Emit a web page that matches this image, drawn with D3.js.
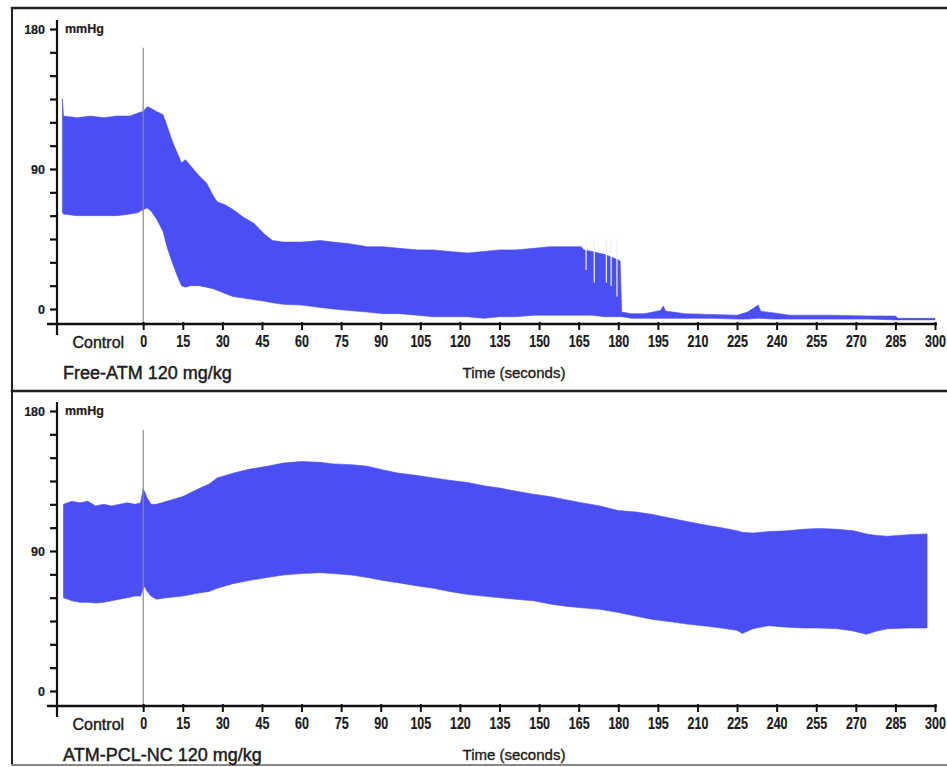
<!DOCTYPE html>
<html>
<head>
<meta charset="utf-8">
<script src="https://cdn.jsdelivr.net/npm/d3@7"></script>
<style>
  html, body { margin: 0; padding: 0; background: #fff; }
  svg { display: block; font-family: "Liberation Sans", Arial, sans-serif; }
</style>
</head>
<body>
<svg id="chart" width="947" height="767"></svg>
<script>
// ---- Free-ATM 120 mg/kg : arterial pressure envelope (mmHg) ----
const freeTime  = [-30.6, -30.2, -25, -20, -15, -10, -5, -2, 0, 1.5, 3, 5, 7.5, 9, 11, 13, 14.5, 16, 18, 21, 24, 26.5, 28, 31, 34, 38, 42, 46, 49, 53, 60, 67, 72, 78, 85, 91, 97, 104, 110, 116, 123, 129, 135, 141, 148, 154, 160, 166, 167, 170, 175, 178, 180.7, 181.3, 185, 190, 193, 196, 197, 198, 201, 205, 215, 225, 229, 233, 234, 239, 245, 260, 275, 285, 286, 300];
const freeUpper = [135, 124, 123, 124, 123, 124, 124, 126, 127, 130, 129, 127, 125, 118, 108, 100, 94, 96, 92, 86, 81, 73, 69, 67, 64, 59, 55, 48, 44, 43, 43, 44, 43, 42, 40, 40, 39, 38, 38, 37, 36, 37, 38, 38, 39, 40, 40, 40, 38, 37, 35, 33, 31, -2, -3, -3, -2, -1, 2, -1.5, -2, -3, -3.5, -4, -2, 2.5, -1.5, -2.5, -4, -4, -4.5, -4.5, -6, -6];
const freeLower = [62, 61, 60, 60, 60, 60, 61, 62, 64, 65, 63, 58, 50, 40, 30, 21, 15, 14, 15, 15, 14, 13, 12, 10, 8, 7, 6, 5, 4, 3, 2.5, 1, 0, -1, -2, -3, -3, -4, -5, -5, -5, -6, -5, -5, -4, -4, -4, -4, -4, -4, -5, -5, -5, -5, -6, -6, -6, -6, -6, -6, -6, -6, -6, -6.5, -6.5, -6, -6, -6.5, -6.5, -6.5, -6.5, -7, -7, -7];
// weak beats (low systolic peaks) shortly before the arrest
const freeWeakTime = [167.8, 170.9, 175.5, 177.3, 179.5];
const freeWeakPeak = [25, 17, 17, 15, 8];

// ---- ATM-PCL-NC 120 mg/kg : arterial pressure envelope (mmHg) ----
const ncTime  = [-30.2, -27, -24, -21, -18, -15, -12, -9, -6, -3, -1, 0, 0.6, 1.5, 3, 5, 9, 15, 21, 25, 28, 34, 40, 47, 53, 60, 67, 72, 79, 85, 91, 97, 104, 110, 116, 123, 129, 135, 141, 148, 154, 160, 166, 173, 180, 187, 193, 200, 206, 212, 219, 225, 227, 231, 237, 244, 250, 256, 263, 269, 274, 278, 282, 290, 297];
const ncUpper = [120, 122, 121, 122, 119, 120, 119, 120, 121, 120, 121, 130, 128, 124, 120, 120, 122, 125, 130, 133, 137, 140, 142.5, 144.5, 146.5, 147.5, 147, 146, 145.5, 144.5, 142, 140, 138.5, 137, 135.5, 134, 132, 130.5, 128.5, 126.5, 125, 123, 121, 119, 116, 115, 113.5, 111, 109, 107, 105, 103, 102, 101.5, 102.5, 103, 104, 104.5, 104, 103, 101, 100, 99.5, 100.5, 101];
const ncLower = [60, 58, 57, 57, 56.5, 57, 58, 59, 60, 61, 61, 66, 67, 64, 61, 59, 60, 61, 63, 64, 66, 69, 71, 73, 74.5, 75.5, 76, 75.5, 74.5, 73, 71, 69.5, 67.5, 66, 64, 62, 61, 60, 59, 58, 56, 54.5, 53.5, 52.5, 50.5, 48, 46, 44.5, 43, 42, 40.5, 39, 37, 40, 42, 41, 40.5, 40.5, 40, 38.5, 36.5, 38.5, 40, 40.5, 40.5];

// ---- axes ----
const timeTicks  = [0, 15, 30, 45, 60, 75, 90, 105, 120, 135, 150, 165, 180, 195, 210, 225, 240, 255, 270, 285, 300];
const mmHgTicks  = [0, 15, 30, 45, 60, 75, 90, 105, 120, 135, 150, 165, 180];
const mmHgLabels = [0, 90, 180];
const controlLabel = "Control";
const controlCentre = -17;      // middle of the pre-dose segment, seconds
const doseTime = 0;             // injection marker
const doseMarkTop = 168;        // marker height, mmHg
const unitLabel = "mmHg";
const timeTitle = "Time (seconds)";
const panelTitles = ["Free-ATM 120 mg/kg", "ATM-PCL-NC 120 mg/kg"];

const traceColor = "#4b4ef2";
const inkColor = "#1a1a1a";
const svg = d3.select("#chart");

const x = d3.scaleLinear().domain([-30, 300]).range([64, 935]);

// frame lines
const frame = svg.append("g").attr("stroke-linecap", "square");
frame.append("line").attr("x1", 12).attr("x2", 12).attr("y1", 8).attr("y2", 764)
  .attr("stroke", "#222").attr("stroke-width", 2);
frame.append("line").attr("x1", 12).attr("x2", 947).attr("y1", 8).attr("y2", 8)
  .attr("stroke", "#222").attr("stroke-width", 2.5);
frame.append("line").attr("x1", 12).attr("x2", 947).attr("y1", 391).attr("y2", 391)
  .attr("stroke", "#222").attr("stroke-width", 2.5);
frame.append("line").attr("x1", 12).attr("x2", 947).attr("y1", 765).attr("y2", 765)
  .attr("stroke", "#888").attr("stroke-width", 2);

// slightly heavier strokes on the lettering, as on the printed trace
function ink(sel, w) {
  return sel.attr("fill", inkColor).attr("stroke", inkColor).attr("stroke-width", w);
}

function drawPanel(offset, times, upper, lower, title, weakTimes, weakPeaks) {
  const g = svg.append("g").attr("transform", `translate(0,${offset})`);
  const y = d3.scaleLinear().domain([0, 180]).range([309, 29]);
  const axisY = 324;

  const rows = times.map((t, i) => ({ t, hi: upper[i], lo: lower[i] }));
  const area = d3.area()
    .x(d => x(d.t))
    .y0(d => y(d.lo))
    .y1(d => y(d.hi));
  g.append("path").datum(rows)
    .attr("d", area)
    .attr("fill", traceColor)
    .attr("stroke", traceColor)
    .attr("stroke-width", 0.6)
    .attr("stroke-linejoin", "round");

  // weak beats show as gaps in the band
  if (weakTimes) {
    g.selectAll("line.weak").data(weakTimes.map((t, i) => ({ t, p: weakPeaks[i] })))
      .join("line").attr("class", "weak")
      .attr("x1", d => x(d.t)).attr("x2", d => x(d.t))
      .attr("y1", y(45)).attr("y2", d => y(d.p))
      .attr("stroke", "#eef0ff").attr("stroke-width", 1.2);
  }

  // dose marker
  g.append("line")
    .attr("x1", x(doseTime)).attr("x2", x(doseTime))
    .attr("y1", y(doseMarkTop)).attr("y2", axisY)
    .attr("stroke", "#8a8a8a").attr("stroke-width", 1.2);

  // y axis
  const yAxis = g.append("g").attr("transform", "translate(57,0)")
    .call(d3.axisLeft(y).tickValues(mmHgTicks)
      .tickFormat(d => mmHgLabels.includes(d) ? d : "")
      .tickSize(7).tickPadding(5));
  yAxis.select(".domain").remove();
  yAxis.selectAll(".tick line").attr("stroke", "#111").attr("stroke-width", 2.2);
  ink(yAxis.selectAll(".tick text").attr("font-size", 12.5).attr("font-weight", "bold"), 0.2);
  g.append("line").attr("x1", 57).attr("x2", 57).attr("y1", 20).attr("y2", 335)
    .attr("stroke", "#111").attr("stroke-width", 2.2);

  // x axis
  const xAxis = g.append("g").attr("transform", `translate(0,${axisY})`)
    .call(d3.axisBottom(x).tickValues(timeTicks).tickSize(6).tickSizeOuter(0).tickPadding(6));
  xAxis.select(".domain").remove();
  xAxis.selectAll(".tick line").attr("y1", -2).attr("stroke", "#111").attr("stroke-width", 2);
  ink(xAxis.selectAll(".tick text")
    .attr("font-size", 16).attr("font-weight", "bold")
    .attr("transform", "scale(0.78,1)"), 0.2);
  g.append("line").attr("x1", 47).attr("x2", x(300) + 2).attr("y1", axisY).attr("y2", axisY)
    .attr("stroke", "#111").attr("stroke-width", 2.4);

  ink(g.append("text").attr("x", x(controlCentre)).attr("y", axisY + 24)
    .attr("text-anchor", "middle").attr("font-size", 16)
    .text(controlLabel), 0.4);

  ink(g.append("text").attr("x", 65).attr("y", 33)
    .attr("font-size", 12.5).attr("font-weight", "bold")
    .text(unitLabel), 0.2);

  ink(g.append("text").attr("x", 514).attr("y", 378)
    .attr("text-anchor", "middle").attr("font-size", 15)
    .text(timeTitle), 0.35);

  ink(g.append("text").attr("x", 63).attr("y", 379)
    .attr("font-size", 18)
    .text(title), 0.45);
}

drawPanel(0, freeTime, freeUpper, freeLower, panelTitles[0], freeWeakTime, freeWeakPeak);
drawPanel(382, ncTime, ncUpper, ncLower, panelTitles[1]);
</script>
</body>
</html>
